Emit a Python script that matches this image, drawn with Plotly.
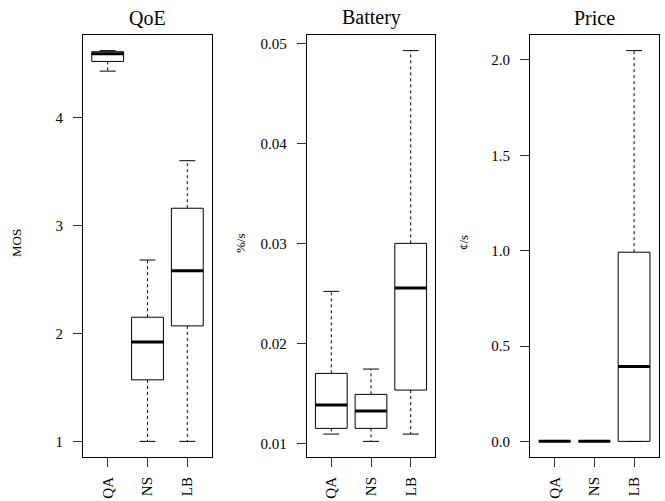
import plotly.graph_objects as go

# ---- data ----
groups = ["QA", "NS", "LB"]

panel_titles = ["QoE", "Battery", "Price"]
unit_labels = ["MOS", "%/s", "¢/s"]

# QoE (MOS)
qoe_lo  = [4.43, 1.00, 1.00]
qoe_q1  = [4.52, 1.57, 2.07]
qoe_med = [4.59, 1.92, 2.58]
qoe_q3  = [4.61, 2.15, 3.16]
qoe_hi  = [4.62, 2.68, 3.60]

# Battery (%/s)
bat_lo  = [0.01093, 0.01020, 0.01093]
bat_q1  = [0.01150, 0.01150, 0.01533]
bat_med = [0.01383, 0.01323, 0.02553]
bat_q3  = [0.01700, 0.01490, 0.03000]
bat_hi  = [0.02520, 0.01743, 0.04927]

# Price (cents/s)
pri_lo  = [0.0, 0.0, 0.0]
pri_q1  = [0.0, 0.0, 0.0]
pri_med = [0.0, 0.0, 0.392]
pri_q3  = [0.0, 0.0, 0.992]
pri_hi  = [0.0, 0.0, 2.049]

qoe_ticks = [1, 2, 3, 4]
bat_ticks = [0.01, 0.02, 0.03, 0.04, 0.05]
pri_ticks = [0.0, 0.5, 1.0, 1.5, 2.0]

panels = [
    (qoe_lo, qoe_q1, qoe_med, qoe_q3, qoe_hi, qoe_ticks, "d"),
    (bat_lo, bat_q1, bat_med, bat_q3, bat_hi, bat_ticks, ".2f"),
    (pri_lo, pri_q1, pri_med, pri_q3, pri_hi, pri_ticks, ".1f"),
]

# ---- layout geometry ----
W, H = 665, 501
x_px = [(83, 212), (306.7, 435.3), (530, 658.7)]
y_top, y_bot = 35, 457
ydom = [(H - y_bot) / H, (H - y_top) / H]
unit_x_px = [16, 240, 463]

FONT = "Liberation Serif, Times New Roman, serif"
fig = go.Figure()

BW = 0.4   # half box width
CW = 0.2   # half staple width

for p, (lo, q1, med, q3, hi, ticks, fmt) in enumerate(panels):
    xa = "x" if p == 0 else f"x{p+1}"
    ya = "y" if p == 0 else f"y{p+1}"
    for i, g in enumerate(groups):
        c = i + 1
        # dashed whiskers
        fig.add_trace(go.Scatter(
            x=[c, c, None, c, c], y=[q3[i], hi[i], None, q1[i], lo[i]],
            mode="lines", line=dict(color="black", width=1, dash="3px,3px"),
            xaxis=xa, yaxis=ya, showlegend=False, hoverinfo="skip"))
        # staples
        fig.add_trace(go.Scatter(
            x=[c - CW, c + CW, None, c - CW, c + CW],
            y=[hi[i], hi[i], None, lo[i], lo[i]],
            mode="lines", line=dict(color="black", width=1),
            xaxis=xa, yaxis=ya, showlegend=False, hoverinfo="skip"))
        # box
        fig.add_trace(go.Scatter(
            x=[c - BW, c + BW, c + BW, c - BW, c - BW],
            y=[q1[i], q1[i], q3[i], q3[i], q1[i]],
            mode="lines", line=dict(color="black", width=1),
            fill="toself", fillcolor="white",
            xaxis=xa, yaxis=ya, showlegend=False, name=g))
        # median
        fig.add_trace(go.Scatter(
            x=[c - BW, c + BW], y=[med[i], med[i]],
            mode="lines", line=dict(color="black", width=3),
            xaxis=xa, yaxis=ya, showlegend=False, hoverinfo="skip"))

    dmin, dmax = min(lo), max(hi)
    span = dmax - dmin
    yr = [dmin - 0.04 * span, dmax + 0.04 * span]
    x0, x1 = x_px[p]
    axfont = dict(family=FONT, size=15, color="black")
    fig.update_layout(**{
        ("xaxis" if p == 0 else f"xaxis{p+1}"): dict(
            domain=[x0 / W, x1 / W], range=[0.38, 3.62], anchor=ya,
            tickvals=[1, 2, 3], ticktext=groups, tickangle=-90,
            ticks="outside", ticklen=9, tickcolor="#333", tickwidth=1,
            showline=True, linecolor="black", linewidth=1, mirror=True,
            showgrid=False, zeroline=False, tickfont=axfont,
            ticklabelstandoff=4, fixedrange=True),
        ("yaxis" if p == 0 else f"yaxis{p+1}"): dict(
            domain=ydom, range=yr, anchor=xa,
            tickvals=ticks, tickformat=fmt,
            ticks="outside", ticklen=9, tickcolor="#333", tickwidth=1,
            showline=True, linecolor="black", linewidth=1, mirror=True,
            showgrid=False, zeroline=False, tickfont=axfont,
            ticklabelstandoff=7, fixedrange=True),
    })
    fig.add_annotation(text=panel_titles[p], xref="paper", yref="paper",
                       x=(x0 + x1) / 2 / W, y=(H - 18) / H,
                       xanchor="center", yanchor="middle", showarrow=False,
                       font=dict(family=FONT, size=20, color="black"))
    fig.add_annotation(text=unit_labels[p], xref="paper", yref="paper",
                       x=unit_x_px[p] / W, y=(H - 243) / H, textangle=-90,
                       xanchor="center", yanchor="middle", showarrow=False,
                       font=dict(family=FONT, size=13, color="black"))

fig.update_layout(width=W, height=H, autosize=False,
                  margin=dict(l=0, r=0, t=0, b=0),
                  paper_bgcolor="white", plot_bgcolor="white",
                  showlegend=False, hovermode=False)

fig.write_html("out.html", config={"displayModeBar": False},
               post_script="document.body.style.margin='0';document.body.style.overflow='hidden';")
